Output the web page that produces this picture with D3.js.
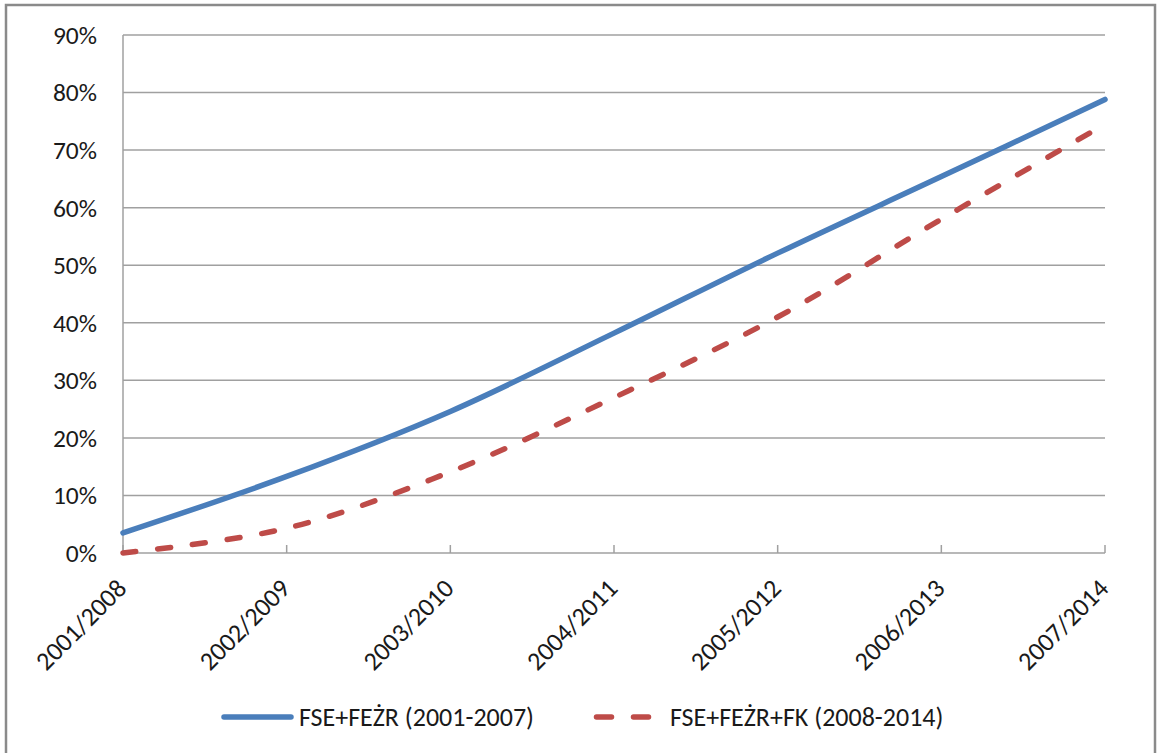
<!DOCTYPE html>
<html>
<head>
<meta charset="utf-8">
<script src="https://cdn.jsdelivr.net/npm/d3@7"></script>
<style>
  html, body { margin: 0; padding: 0; background: #fff; }
  svg { display: block; }
  text { font-family: Carlito, Lato, "Open Sans", sans-serif; fill: #1a1a1a; }
</style>
</head>
<body>
<svg id="chart" width="1157" height="753"></svg>
<script>
const categories = ["2001/2008", "2002/2009", "2003/2010", "2004/2011", "2005/2012", "2006/2013", "2007/2014"];
const seriesNames = ["FSE+FEŻR (2001-2007)", "FSE+FEŻR+FK (2008-2014)"];
const seriesA = [3.5, 13.3, 24.6, 38.2, 52.1, 65.4, 78.8];
const seriesB = [0.0, 4.3, 14.1, 27.0, 41.0, 58.0, 74.5];
const yTicks = [0, 10, 20, 30, 40, 50, 60, 70, 80, 90];

const svg = d3.select("#chart");
const m = { left: 123, right: 1105, top: 35, bottom: 553 };

// outer frame
svg.append("rect").attr("x", 6).attr("y", 5).attr("width", 1149).attr("height", 760)
  .attr("fill", "none").attr("stroke", "#8a8a8a").attr("stroke-width", 2.5);

const x = d3.scalePoint().domain(categories).range([m.left, m.right]);
const y = d3.scaleLinear().domain([0, 90]).range([m.bottom, m.top]);

// gridlines
svg.append("g").selectAll("line").data(yTicks).join("line")
  .attr("x1", m.left).attr("x2", m.right)
  .attr("y1", d => y(d)).attr("y2", d => y(d))
  .attr("stroke", "#a0a0a0").attr("stroke-width", 1.5);

// y axis line
svg.append("line").attr("x1", m.left).attr("x2", m.left).attr("y1", m.top).attr("y2", m.bottom)
  .attr("stroke", "#a0a0a0").attr("stroke-width", 1.5);

// y labels
svg.append("g").selectAll("text").data(yTicks).join("text")
  .attr("x", 97).attr("y", d => y(d)).attr("dy", "0.35em")
  .attr("text-anchor", "end").attr("font-size", 25.5)
  .text(d => d + "%");

// x ticks (inside)
svg.append("g").selectAll("line").data(categories).join("line")
  .attr("x1", d => x(d)).attr("x2", d => x(d))
  .attr("y1", m.bottom).attr("y2", m.bottom - 8)
  .attr("stroke", "#a0a0a0").attr("stroke-width", 1.5);

// x labels rotated
svg.append("g").selectAll("text").data(categories).join("text")
  .attr("transform", d => `translate(${x(d) + 5},${590}) rotate(-45)`)
  .attr("text-anchor", "end").attr("font-size", 26)
  .text(d => d);

const line = d3.line()
  .x((d, i) => x(categories[i]))
  .y(d => y(d))
  .curve(d3.curveCatmullRom.alpha(0.5));

svg.append("path").datum(seriesA).attr("d", line)
  .attr("fill", "none").attr("stroke", "#4a7ebb").attr("stroke-width", 5.5)
  .attr("stroke-linecap", "round");

svg.append("path").datum(seriesB).attr("d", line)
  .attr("fill", "none").attr("stroke", "#be4b48").attr("stroke-width", 5.5)
  .attr("stroke-linecap", "round").attr("stroke-dasharray", "13 22");

// legend
const ly = 717;
svg.append("line").attr("x1", 224).attr("x2", 291).attr("y1", ly).attr("y2", ly)
  .attr("stroke", "#4a7ebb").attr("stroke-width", 5.5).attr("stroke-linecap", "round");
svg.append("text").attr("x", 299).attr("y", ly).attr("dy", "0.35em")
  .attr("font-size", 26).text(seriesNames[0]);

svg.append("line").attr("x1", 596.5).attr("x2", 648.5).attr("y1", ly).attr("y2", ly)
  .attr("stroke", "#be4b48").attr("stroke-width", 5.5).attr("stroke-linecap", "round")
  .attr("stroke-dasharray", "15 22");
svg.append("text").attr("x", 670).attr("y", ly).attr("dy", "0.35em")
  .attr("font-size", 26).text(seriesNames[1]);
</script>
</body>
</html>
